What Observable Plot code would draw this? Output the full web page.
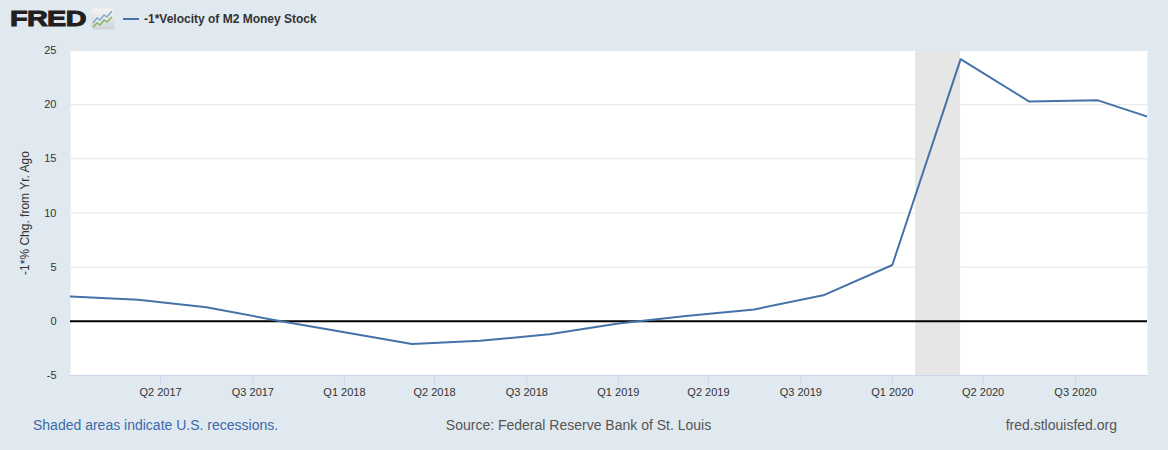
<!DOCTYPE html>
<html>
<head>
<meta charset="utf-8">
<script src="https://cdn.jsdelivr.net/npm/d3@7"></script>
<script src="https://cdn.jsdelivr.net/npm/@observablehq/plot@0.6"></script>
<style>
  html, body { margin: 0; padding: 0; }
  body { width: 1168px; height: 450px; background: #e1e9f0; position: relative; overflow: hidden;
         font-family: "Liberation Sans", Arial, Helvetica, sans-serif; }
  #header { position: absolute; left: 0; top: 0; width: 1168px; height: 40px; }
  #logo { position: absolute; left: 10px; top: 5px; font-size: 22.5px; font-weight: 900; color: #231f20;
          transform: scaleX(1.28); transform-origin: left top; letter-spacing: -0.5px; line-height: 28px;
          -webkit-text-stroke: 1px #231f20; }
  #icon { position: absolute; left: 91px; top: 8px; }
  #legend { position: absolute; left: 123px; top: 11px; font-size: 12px; font-weight: bold; color: #333; line-height: 16px; }
  #legend .sw { display: inline-block; width: 16px; height: 2px; background: #4572a7; vertical-align: middle; margin-right: 5px; position: relative; top: -1px; }
  #chart { position: absolute; left: 0; top: 40px; }
  .cap { position: absolute; top: 416px; font-size: 14px; line-height: 18px; }
</style>
</head>
<body>
<div id="header">
  <div id="logo">FRED</div>
  <svg id="icon" width="24" height="22" viewBox="0 0 24 22">
    <defs><linearGradient id="g" x1="0" y1="0" x2="0" y2="1"><stop offset="0" stop-color="#f4f4f4"/><stop offset="1" stop-color="#cfd3d6"/></linearGradient></defs>
    <rect x="0.5" y="0.5" width="23" height="21" rx="3" fill="url(#g)"/>
    <polyline points="2,15 6,10 9,12 13,7 16,9 21,3" fill="none" stroke="#7aa6cf" stroke-width="1.3"/>
    <polyline points="2,19 6,15 9,17 13,12 16,14 21,9" fill="none" stroke="#77b255" stroke-width="1.3"/>
  </svg>
  <div id="legend"><span class="sw"></span>-1*Velocity of M2 Money Stock</div>
</div>
<div id="chart"></div>
<div class="cap" style="left:33px;color:#3a6aa8;">Shaded areas indicate U.S. recessions.</div>
<div class="cap" style="left:0;width:1157px;text-align:center;color:#555;">Source: Federal Reserve Bank of St. Louis</div>
<div class="cap" style="right:51px;color:#555;">fred.stlouisfed.org</div>
<script>
// Quarterly observations (dates) and values of -1*Velocity of M2, % change from year ago
const dates = ["2017-01-01","2017-04-01","2017-07-01","2017-10-01",
               "2018-01-01","2018-04-01","2018-07-01","2018-10-01",
               "2019-01-01","2019-04-01","2019-07-01","2019-10-01",
               "2020-01-01","2020-04-01","2020-07-01","2020-10-01",
               "2021-01-01"];
const values = [2.3, 2.0, 1.3, 0.1,
                -1.0, -2.1, -1.8, -1.2,
                -0.2, 0.5, 1.1, 2.4,
                5.2, 24.2, 20.3, 20.4,
                18.3];
// Recession period
const recessionStart = ["2020-02-01"];
const recessionEnd = ["2020-04-01"];
// Axis ticks
const xTickDates = ["2017-05-01","2017-09-01","2018-01-01","2018-05-01","2018-09-01",
                    "2019-01-01","2019-05-01","2019-09-01","2020-01-01","2020-05-01","2020-09-01"];
const xTickLabels = ["Q2 2017","Q3 2017","Q1 2018","Q2 2018","Q3 2018",
                     "Q1 2019","Q2 2019","Q3 2019","Q1 2020","Q2 2020","Q3 2020"];
const yTicks = [-5, 0, 5, 10, 15, 20, 25];
const yGrid = [5, 10, 15, 20, 25];
const xDomain = ["2017-01-01", "2020-12-06"];
const yDomain = [-5, 25];
const yLabel = "-1*% Chg. from Yr. Ago";

const parse = d3.utcParse("%Y-%m-%d");
const data = dates.map((d, i) => ({date: parse(d), value: values[i]}));
const recessions = recessionStart.map((s, i) => ({start: parse(s), end: parse(recessionEnd[i])}));
const xTicks = xTickDates.map(parse);
const labelOf = new Map(xTicks.map((t, i) => [+t, xTickLabels[i]]));

const chart = Plot.plot({
  width: 1168,
  height: 365,
  marginTop: 10,
  marginBottom: 30,
  marginLeft: 70,
  marginRight: 21,
  style: {background: "transparent", fontFamily: "Liberation Sans, Arial, sans-serif", fontSize: "11px", color: "#333"},
  x: {type: "utc", domain: xDomain.map(parse)},
  y: {domain: yDomain},
  marks: [
    Plot.frame({fill: "white", stroke: null}),
    Plot.rect(recessions, {x1: "start", x2: "end", fill: "#e6e6e6"}),
    Plot.ruleY(yGrid, {stroke: "#e6e6e6", strokeWidth: 1}),
    Plot.ruleY([yDomain[0]], {stroke: "#ccd6eb", strokeWidth: 1}),
    Plot.ruleY([0], {stroke: "black", strokeWidth: 2}),
    Plot.line(data, {x: "date", y: "value", stroke: "#4572a7", strokeWidth: 2, clip: true}),
    Plot.axisX({ticks: xTicks, tickSize: 10, tickPadding: 3, stroke: "#ccd6eb", label: null,
                tickFormat: d => labelOf.get(+d), fill: "#333"}),
    Plot.axisY({ticks: yTicks, tickSize: 0, tickPadding: 14, label: null, fill: "#333",
                tickFormat: d => String(d)}),
    Plot.text([yLabel], {frameAnchor: "left", textAnchor: "middle", rotate: -90, dx: -45,
                         fontSize: 12, fill: "#333", text: d => d})
  ]
});
document.getElementById("chart").appendChild(chart);
</script>
</body>
</html>
